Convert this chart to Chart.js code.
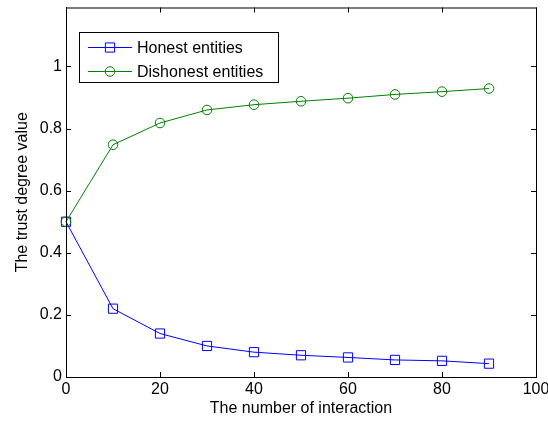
<!DOCTYPE html>
<html>
<head>
<meta charset="utf-8">
<script src="https://cdn.jsdelivr.net/npm/chart.js@4"></script>
<style>
  html, body { margin: 0; padding: 0; background: #fff; }
  #wrap { width: 548px; height: 421px; }
</style>
</head>
<body>
<div id="wrap"><canvas id="chart"></canvas></div>
<script>
// Data
const interactions = [0, 10, 20, 30, 40, 50, 60, 70, 80, 90];
const honestValues = [0.5, 0.22, 0.14, 0.1, 0.08, 0.07, 0.063, 0.055, 0.052, 0.043];
const dishonestValues = [0.5, 0.748, 0.818, 0.86, 0.877, 0.888, 0.898, 0.91, 0.919, 0.929];
const xTicks = [0, 20, 40, 60, 80, 100];
const yTicks = [0, 0.2, 0.4, 0.6, 0.8, 1];
const seriesLabels = ["Honest entities", "Dishonest entities"];

const FONT = "'Liberation Sans', Arial, sans-serif";

// Box round the plot with inward tick marks (MATLAB look)
const boxPlugin = {
  id: "box",
  afterDraw(chart) {
    const { ctx, chartArea: a, scales } = chart;
    ctx.save();
    ctx.strokeStyle = "#000";
    ctx.lineWidth = 1;
    ctx.strokeRect(a.left + 0.5, a.top + 0.5, a.right - a.left, a.bottom - a.top);
    const len = 5;
    ctx.beginPath();
    xTicks.forEach(v => {
      const x = Math.round(scales.x.getPixelForValue(v)) + 0.5;
      ctx.moveTo(x, a.bottom); ctx.lineTo(x, a.bottom - len);
      ctx.moveTo(x, a.top); ctx.lineTo(x, a.top + len);
    });
    yTicks.forEach(v => {
      const y = Math.round(scales.y.getPixelForValue(v)) + 0.5;
      ctx.moveTo(a.left, y); ctx.lineTo(a.left + len, y);
      ctx.moveTo(a.right, y); ctx.lineTo(a.right - len, y);
    });
    ctx.stroke();
    ctx.restore();
  }
};

// Legend box inside the plot, top left
const legendBoxPlugin = {
  id: "legendBox",
  afterDraw(chart) {
    const { ctx } = chart;
    const bx = 79, by = 32, bw = 199, bh = 50;
    ctx.save();
    ctx.fillStyle = "#fff";
    ctx.fillRect(bx, by, bw, bh);
    ctx.strokeStyle = "#000";
    ctx.lineWidth = 1;
    ctx.strokeRect(bx + 0.5, by + 0.5, bw, bh);
    const rows = [47, 71];
    chart.data.datasets.forEach((ds, i) => {
      const y = rows[i] + 0.5;
      ctx.strokeStyle = ds.borderColor;
      ctx.fillStyle = "rgba(0,0,0,0)";
      ctx.lineWidth = 1;
      ctx.beginPath();
      ctx.moveTo(88, y); ctx.lineTo(132, y);
      ctx.stroke();
      Chart.helpers.drawPoint(ctx, {
        pointStyle: ds.pointStyle,
        radius: ds.pointRadius,
        borderWidth: 1,
        rotation: 0
      }, 110, y);
      ctx.fillStyle = "#000";
      ctx.font = "16px " + FONT;
      ctx.textBaseline = "middle";
      ctx.textAlign = "left";
      ctx.fillText(seriesLabels[i], 137, y + 1);
    });
    ctx.restore();
  }
};

const toPoints = vals => interactions.map((x, i) => ({ x: x, y: vals[i] }));

new Chart(document.getElementById("chart"), {
  type: "line",
  data: {
    datasets: [
      {
        label: seriesLabels[0],
        data: toPoints(honestValues),
        borderColor: "#0000ff",
        backgroundColor: "rgba(0,0,0,0)",
        pointStyle: "rect",
        pointRadius: 6.5,
        pointBorderWidth: 1,
        pointBackgroundColor: "rgba(0,0,0,0)",
        borderWidth: 1,
        tension: 0,
        clip: false,
        order: 1
      },
      {
        label: seriesLabels[1],
        data: toPoints(dishonestValues),
        borderColor: "#008000",
        backgroundColor: "rgba(0,0,0,0)",
        pointStyle: "circle",
        pointRadius: 4.8,
        pointBorderWidth: 1,
        pointBackgroundColor: "rgba(0,0,0,0)",
        borderWidth: 1,
        tension: 0,
        clip: false,
        order: 0
      }
    ]
  },
  options: {
    responsive: true,
    maintainAspectRatio: false,
    animation: false,
    layout: { padding: { left: 0, top: 7, right: 12, bottom: 0 } },
    plugins: {
      legend: { display: false },
      tooltip: { enabled: false }
    },
    scales: {
      x: {
        type: "linear",
        min: 0,
        max: 100,
        grid: { display: false, drawTicks: false, tickLength: 0 },
        border: { display: true, color: "#000", width: 1 },
        afterBuildTicks: s => { s.ticks = xTicks.map(v => ({ value: v })); },
        afterFit: s => { s.height = 44; s.paddingLeft = 0; s.paddingRight = 0; },
        ticks: {
          color: "#000",
          padding: 3,
          maxRotation: 0,
          font: { family: FONT, size: 16 }
        },
        title: {
          display: true,
          text: "The number of interaction",
          color: "#000",
          padding: { top: 0, bottom: 3 },
          font: { family: FONT, size: 16 }
        }
      },
      y: {
        min: 0,
        max: 1.19,
        grid: { display: false, drawTicks: false, tickLength: 0 },
        border: { display: true, color: "#000", width: 1 },
        afterBuildTicks: s => { s.ticks = yTicks.map(v => ({ value: v })); },
        afterFit: s => { s.width = 66; s.paddingTop = 0; s.paddingBottom = 0; },
        ticks: {
          color: "#000",
          padding: 4,
          font: { family: FONT, size: 16 },
          callback: v => String(+v.toFixed(1))
        },
        title: {
          display: true,
          text: "The trust degree value",
          color: "#000",
          padding: { top: 13, bottom: 0 },
          font: { family: FONT, size: 16 }
        }
      }
    }
  },
  plugins: [boxPlugin, legendBoxPlugin]
});
</script>
</body>
</html>
